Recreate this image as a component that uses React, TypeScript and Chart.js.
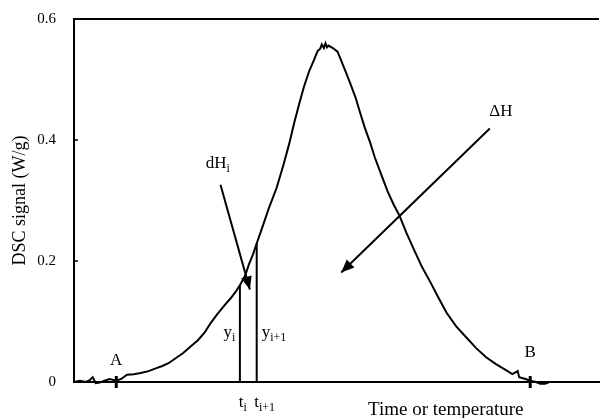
import React, { useEffect, useRef } from "react";
import { Chart, registerables } from "chart.js";

Chart.register(...registerables);

// Curve: time (arbitrary units 0..100) vs DSC signal (W/g)
const timeValues = [
  0, 1.12, 2.25, 3.0, 3.56, 4.12, 4.87, 5.81, 6.74, 8.05, 8.99, 10.1, 11.4, 12.7, 14.2,
  15.7, 16.7, 18.0, 19.5, 20.8, 22.1, 23.6, 24.9, 26.0, 27.3, 28.7, 29.8, 30.7, 31.6,
  32.6, 33.3, 34.1, 34.8, 35.8, 37.1, 38.6, 39.9, 41.0, 41.9, 42.9, 43.8, 44.8, 45.7,
  46.4, 46.9, 47.2, 47.6, 47.9, 48.2, 48.5, 49.3, 50.2, 50.9, 51.7, 52.6, 53.6, 54.5,
  55.4, 56.4, 57.3, 58.6, 59.7, 60.9, 62.0, 63.3, 64.8, 66.3, 68.0, 69.5, 71.0, 72.8,
  74.7, 76.6, 78.5, 80.3, 82.2, 83.5, 84.5, 84.8, 86.0, 86.9, 88.0, 88.8, 89.7, 90.4,
];
const signalValues = [
  0.0, 0.002, 0.0, 0.003, 0.008, -0.002, -0.001, 0.002, 0.005, 0.002, 0.005, 0.012, 0.013,
  0.015, 0.018, 0.023, 0.026, 0.031, 0.04, 0.048, 0.058, 0.069, 0.082, 0.097, 0.112, 0.127,
  0.138, 0.148, 0.16, 0.176, 0.194, 0.211, 0.229, 0.254, 0.287, 0.321, 0.359, 0.394, 0.427,
  0.46, 0.488, 0.514, 0.532, 0.547, 0.551, 0.558, 0.552, 0.56, 0.553, 0.556, 0.552, 0.546,
  0.531, 0.514, 0.494, 0.471, 0.445, 0.42, 0.396, 0.371, 0.341, 0.316, 0.293, 0.275, 0.247,
  0.218, 0.19, 0.163, 0.138, 0.114, 0.092, 0.074, 0.056, 0.041, 0.03, 0.02, 0.013, 0.018,
  0.008, 0.005, 0.002, 0.0, -0.003, -0.003, -0.001,
];

// Axis ticks
const yTicks = [0, 0.2, 0.4, 0.6];
const yTickLabels = ["0", "0.2", "0.4", "0.6"];
const yTitle = "DSC signal (W/g)";
const xTitle = "Time or temperature";
const xTitleAt = 70.8;

// Integration limits A and B
const markerNames = ["A", "B"];
const markerX = [8.05, 86.9];
const markerLabelY = [0.035, 0.048];

// Step t_i .. t_i+1
const stepX = [31.6, 34.8];
const stepY = [0.16, 0.229];
const stepTickMain = ["t", "t"];
const stepTickSub = ["i", "i+1"];
const stepValueMain = ["y", "y"];
const stepValueSub = ["i", "i+1"];
const stepValueLabelX = [29.6, 38.1];
const stepValueLabelY = [0.081, 0.081];

// Arrows
const arrowMain = ["dH", "\u0394H"];
const arrowSub = ["i", ""];
const arrowStartX = [27.9, 79.2];
const arrowStartY = [0.326, 0.419];
const arrowTipX = [33.5, 50.9];
const arrowTipY = [0.153, 0.181];
const arrowLabelX = [27.4, 81.3];
const arrowLabelY = [0.361, 0.447];

const FONT = '"Liberation Serif", "Times New Roman", serif';

function drawSub(ctx: CanvasRenderingContext2D, main: string, sub: string, cx: number, cy: number, size: number) {
  ctx.font = `${size}px ${FONT}`;
  const w1 = ctx.measureText(main).width;
  const subSize = Math.round(size * 0.68);
  ctx.font = `${subSize}px ${FONT}`;
  const w2 = sub ? ctx.measureText(sub).width : 0;
  const start = cx - (w1 + w2) / 2;
  ctx.textAlign = "left";
  ctx.textBaseline = "middle";
  ctx.font = `${size}px ${FONT}`;
  ctx.fillText(main, start, cy);
  if (sub) {
    ctx.font = `${subSize}px ${FONT}`;
    ctx.fillText(sub, start + w1, cy + size * 0.3);
  }
}

const annotatePlugin = {
  id: "annotate",
  afterDatasetsDraw(chart: any) {
    const { ctx, chartArea } = chart;
    const x = chart.scales.x;
    const y = chart.scales.y;
    ctx.save();
    ctx.strokeStyle = "#000";
    ctx.fillStyle = "#000";
    // top frame line
    ctx.lineWidth = 2;
    ctx.beginPath();
    ctx.moveTo(chartArea.left, chartArea.top);
    ctx.lineTo(chartArea.right, chartArea.top);
    ctx.stroke();
    // inward y ticks
    ctx.lineWidth = 1.5;
    yTicks.forEach((v) => {
      if (v === yTicks[0] || v === yTicks[yTicks.length - 1]) return;
      const py = y.getPixelForValue(v);
      ctx.beginPath();
      ctx.moveTo(chartArea.left, py);
      ctx.lineTo(chartArea.left + 4, py);
      ctx.stroke();
    });
    // arrowheads + arrow labels
    for (let i = 0; i < arrowMain.length; i++) {
      const sx = x.getPixelForValue(arrowStartX[i]);
      const sy = y.getPixelForValue(arrowStartY[i]);
      const tx = x.getPixelForValue(arrowTipX[i]);
      const ty = y.getPixelForValue(arrowTipY[i]);
      const a = Math.atan2(ty - sy, tx - sx);
      const L = 13;
      const W = 5.5;
      const bx = tx - L * Math.cos(a);
      const by = ty - L * Math.sin(a);
      ctx.beginPath();
      ctx.moveTo(tx, ty);
      ctx.lineTo(bx - W * Math.sin(a), by + W * Math.cos(a));
      ctx.lineTo(bx + W * Math.sin(a), by - W * Math.cos(a));
      ctx.closePath();
      ctx.fill();
      drawSub(ctx, arrowMain[i], arrowSub[i], x.getPixelForValue(arrowLabelX[i]), y.getPixelForValue(arrowLabelY[i]), 17);
    }
    // marker labels
    for (let i = 0; i < markerNames.length; i++) {
      drawSub(ctx, markerNames[i], "", x.getPixelForValue(markerX[i]), y.getPixelForValue(markerLabelY[i]), 17);
    }
    // step labels
    for (let i = 0; i < stepX.length; i++) {
      drawSub(ctx, stepValueMain[i], stepValueSub[i], x.getPixelForValue(stepValueLabelX[i]), y.getPixelForValue(stepValueLabelY[i]), 17);
      const px = x.getPixelForValue(stepX[i]);
      drawSub(ctx, stepTickMain[i], stepTickSub[i], px + (i === 0 ? 3 : 8), chartArea.bottom + 21, 17);
    }
    // x title
    ctx.font = `19px ${FONT}`;
    ctx.textAlign = "center";
    ctx.textBaseline = "middle";
    ctx.fillText(xTitle, x.getPixelForValue(xTitleAt), chartArea.bottom + 28);
    ctx.restore();
  },
};

export default function App() {
  const ref = useRef<HTMLCanvasElement | null>(null);
  useEffect(() => {
    document.body.style.margin = "0";
    const canvas = ref.current;
    if (!canvas) return;
    const curve = timeValues.map((t, i) => ({ x: t, y: signalValues[i] }));
    const datasets: any[] = [
      {
        data: curve,
        showLine: true,
        borderColor: "#000",
        borderWidth: 2,
        pointRadius: 0,
        tension: 0,
        clip: false,
      },
    ];
    stepX.forEach((sx, i) => {
      datasets.push({
        data: [
          { x: sx, y: 0 },
          { x: sx, y: stepY[i] },
        ],
        showLine: true,
        borderColor: "#000",
        borderWidth: 2,
        pointRadius: 0,
      });
    });
    arrowMain.forEach((_, i) => {
      datasets.push({
        data: [
          { x: arrowStartX[i], y: arrowStartY[i] },
          { x: arrowTipX[i], y: arrowTipY[i] },
        ],
        showLine: true,
        borderColor: "#000",
        borderWidth: 2,
        pointRadius: 0,
      });
    });
    datasets.push({
      data: markerX.map((mx) => ({ x: mx, y: 0 })),
      showLine: false,
      pointStyle: "line",
      rotation: 90,
      pointRadius: 6,
      borderColor: "#000",
      borderWidth: 3,
      clip: false,
    });

    const chart = new Chart(canvas, {
      type: "scatter",
      data: { datasets },
      options: {
        animation: false,
        responsive: false,
        maintainAspectRatio: false,
        layout: { padding: { top: 18, right: 0, bottom: 0, left: 0 } },
        plugins: { legend: { display: false }, tooltip: { enabled: false } },
        scales: {
          x: {
            type: "linear",
            min: 0,
            max: 100,
            grid: { display: false },
            border: { display: true, color: "#000", width: 2 },
            ticks: { display: false },
            afterFit: (s: any) => {
              s.height = 36;
            },
          },
          y: {
            type: "linear",
            min: 0,
            max: 0.6,
            grid: { display: false },
            border: { display: true, color: "#000", width: 2 },
            afterBuildTicks: (s: any) => {
              s.ticks = yTicks.map((v) => ({ value: v }));
            },
            ticks: {
              color: "#000",
              padding: 10,
              font: { family: FONT, size: 15 },
              callback: (v: any) => yTickLabels[yTicks.indexOf(Number(v))] ?? "",
            },
            title: {
              display: true,
              text: yTitle,
              color: "#000",
              font: { family: FONT, size: 18 },
              padding: { top: 9, bottom: 0 },
            },
            afterFit: (s: any) => {
              s.width = 74;
            },
          },
        },
      },
      plugins: [annotatePlugin],
    });
    return () => chart.destroy();
  }, []);
  return (
    <div style={{ width: 608, height: 418 }}>
      <canvas ref={ref} width={608} height={418} />
    </div>
  );
}
